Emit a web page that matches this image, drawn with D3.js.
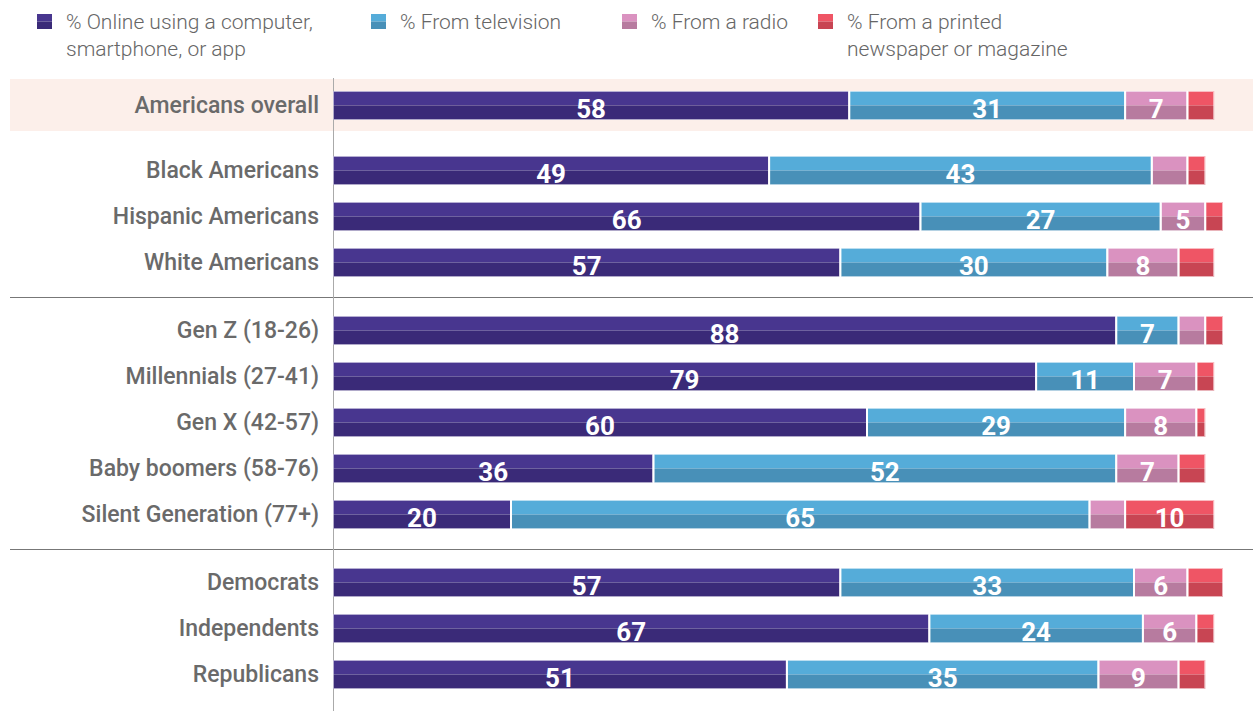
<!DOCTYPE html>
<meta charset="utf-8">
<script src="https://d3js.org/d3.v7.min.js"></script>
<style>
  body { margin: 0; background: #fff; }
  text { font-family: Roboto, "Noto Sans", sans-serif; }
</style>
<div id="chart"></div>
<script>

// row labels, grouped
var groups = [0, 1, 1, 1, 2, 2, 2, 2, 2, 3, 3, 3]
var categories = ["Americans overall", "Black Americans", "Hispanic Americans", "White Americans",
  "Gen Z (18-26)", "Millennials (27-41)", "Gen X (42-57)", "Baby boomers (58-76)", "Silent Generation (77+)",
  "Democrats", "Independents", "Republicans"]

// series values (%)
var online     = [58, 49, 66, 57, 88, 79, 60, 36, 20, 57, 67, 51]
var television = [31, 43, 27, 30,  7, 11, 29, 52, 65, 33, 24, 35]
var radio      = [ 7,  4,  5,  8,  3,  7,  8,  7,  4,  6,  6,  9]
var printed    = [ 3,  2,  2,  4,  2,  2,  1,  3, 10,  4,  2,  3]

var seriesNames = ["% Online using a computer,\nsmartphone, or app", "% From television",
  "% From a radio", "% From a printed\nnewspaper or magazine"]
var topColors = ["#48368f", "#55acd9", "#da92c0", "#ef5565"]
var botColors = ["#3a2a78", "#4890b8", "#b77b9f", "#c84553"]

var W = 1253, H = 711
var svg = d3.select("#chart").append("svg")
  .attr("width", W).attr("height", H)

var x = d3.scaleLinear().domain([0, 100]).range([333, 1223])

// y: band per row (step 46) + extra offset per group
var pad = 17 / 46
var y = d3.scaleBand().domain(categories).range([91, 91 + 46 * (12 - pad)]).paddingInner(pad).paddingOuter(0)
function rowY(i) { return y(categories[i]) + (groups[i] > 0 ? 22 * groups[i] - 3 : 0) }
var bh = y.bandwidth()

// highlight band for overall
svg.append("rect")
  .attr("x", 10).attr("y", rowY(0) - 12).attr("width", W - 10).attr("height", bh + 23)
  .attr("fill", "#fcefea")

// group separators
;[4, 9].forEach(function(i) {
  var yy = Math.round((rowY(i - 1) + bh + rowY(i)) / 2) + 0.5
  svg.append("line").attr("x1", 10).attr("x2", W).attr("y1", yy).attr("y2", yy)
    .attr("stroke", "#777").attr("stroke-width", 1)
})

// vertical axis line
svg.append("line").attr("x1", 333.5).attr("x2", 333.5).attr("y1", 78).attr("y2", H)
  .attr("stroke", "#aaa").attr("stroke-width", 1)

var rows = categories.map(function(c, i) {
  return { name: c, i: i, vals: [online[i], television[i], radio[i], printed[i]] }
})

rows.forEach(function(r) {
  var y0 = rowY(r.i)
  var cum = 0
  r.vals.forEach(function(v, k) {
    var x0 = x(cum), x1 = x(cum + v)
    cum += v
    var g = svg.append("g")
    g.append("rect").attr("x", x0).attr("y", y0).attr("width", x1 - x0).attr("height", bh / 2)
      .attr("fill", topColors[k])
    g.append("rect").attr("x", x0).attr("y", y0 + bh / 2).attr("width", x1 - x0).attr("height", bh / 2)
      .attr("fill", botColors[k])
    g.append("rect").attr("x", x0 + 0.5).attr("y", y0 + 0.5).attr("width", x1 - x0 - 1).attr("height", bh - 1)
      .attr("fill", "none").attr("stroke", "#fff").attr("stroke-opacity", 0.6).attr("stroke-width", 1)
    if (k > 0) {
      g.append("line").attr("x1", x0).attr("x2", x0).attr("y1", y0).attr("y2", y0 + bh)
        .attr("stroke", "#fff").attr("stroke-width", 2)
    }
    if (v >= 5) {
      g.append("text").attr("x", (x0 + x1) / 2).attr("y", y0 + bh - 2)
        .attr("text-anchor", "middle").attr("fill", "#fff")
        .style("font-size", "26px").style("font-weight", "bold")
        .text(v)
    }
  })
  svg.append("text").attr("x", 319).attr("y", y0 + bh / 2 + 7)
    .attr("text-anchor", "end").attr("fill", "#6a6a6a")
    .style("font-size", "23px").style("font-weight", 500)
    .text(r.name)
})

// legend
var legX = [37, 371, 622, 818]
seriesNames.forEach(function(n, k) {
  svg.append("rect").attr("x", legX[k]).attr("y", 14).attr("width", 15).attr("height", 7.5).attr("fill", topColors[k])
  svg.append("rect").attr("x", legX[k]).attr("y", 21.5).attr("width", 15).attr("height", 7.5).attr("fill", botColors[k])
  var t = svg.append("text").attr("x", legX[k] + 29).attr("y", 29)
    .attr("fill", "#666").style("font-size", "21px").style("font-weight", 300)
  n.split("\n").forEach(function(line, j) {
    t.append("tspan").attr("x", legX[k] + 29).attr("dy", j ? 27 : 0).text(line)
  })
})

</script>
